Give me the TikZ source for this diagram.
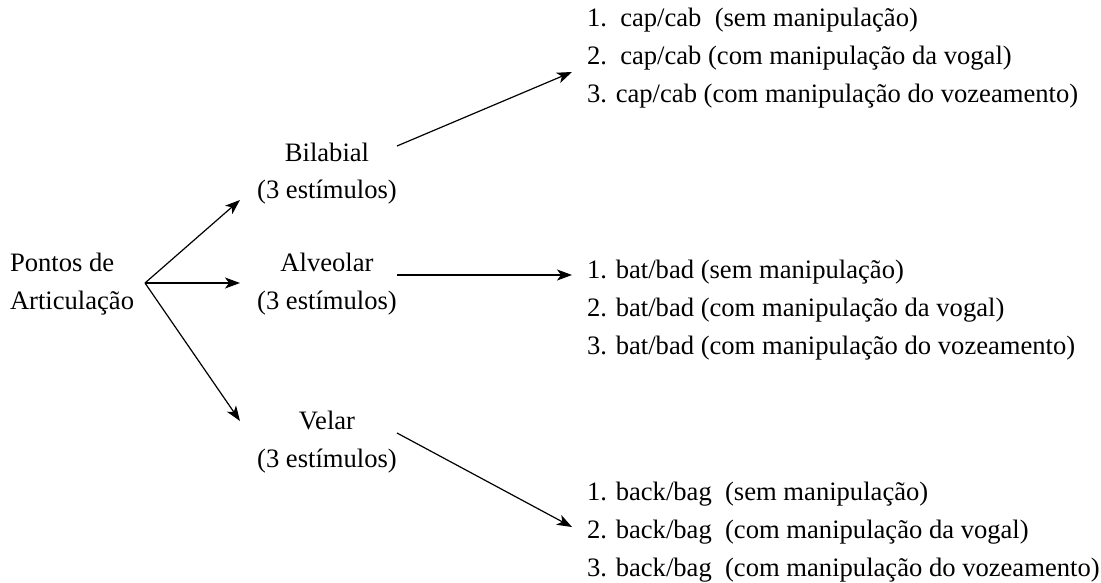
\documentclass[tikz,border=0pt]{standalone}
\usepackage{fontspec}
\setmainfont{Liberation Serif}
\newfontfamily\timesfam{Liberation Serif}
\usetikzlibrary{arrows.meta}
\begin{document}
\begin{tikzpicture}[x=1pt,y=-1pt,
  txt/.style={font=\timesfam\fontsize{26.6}{38}\selectfont, inner sep=0pt, outer sep=0pt},
  mid/.style={txt, anchor=base},
  item/.style={txt, anchor=base west},
  arr/.style={-{Stealth[length=15pt,width=11pt,inset=4pt]}, line width=1.2pt}]
\useasboundingbox (0,0) rectangle (1101,583);

% root
\node[item] (p1) at (10,271) {Pontos de};
\node[item] (p2) at (10,309) {Articulação};
\coordinate (o) at (145,283);

% places of articulation
\node[mid] (b1) at (327,161) {Bilabial};
\node[mid] (b2) at (327,199) {(3 estímulos)};
\node[mid] (a1) at (327,271) {Alveolar};
\node[mid] (a2) at (327,309) {(3 estímulos)};
\node[mid] (v1) at (327,429) {Velar};
\node[mid] (v2) at (327,467) {(3 estímulos)};

% stimulus lists
\node[item] (c1) at (587,27)  {1.\ \ cap/cab\ \ (sem manipulação)};
\node[item] (c2) at (587,65)  {2.\ \ cap/cab (com manipulação da vogal)};
\node[item] (c3) at (587,103) {3. cap/cab (com manipulação do vozeamento)};

\node[item] (t1) at (587,278) {1. bat/bad (sem manipulação)};
\node[item] (t2) at (587,316) {2. bat/bad (com manipulação da vogal)};
\node[item] (t3) at (587,354) {3. bat/bad (com manipulação do vozeamento)};

\node[item] (k1) at (587,500) {1. back/bag\ \ (sem manipulação)};
\node[item] (k2) at (587,538) {2. back/bag\ \ (com manipulação da vogal)};
\node[item] (k3) at (587,576) {3. back/bag\ \ (com manipulação do vozeamento)};

% arrow end points
\coordinate (eb) at (240,200);
\coordinate (ea) at (240,283);
\coordinate (ev) at (240,421);
\coordinate (sb) at (397,146);
\coordinate (sa) at (397,275);
\coordinate (sv) at (397,433);
\coordinate (ec) at (572,72);
\coordinate (et) at (572,275);
\coordinate (ek) at (572,527);

\draw[arr] (o) -- (eb);
\draw[arr] (o) -- (ea);
\draw[arr] (o) -- (ev);
\draw[arr] (sb) -- (ec);
\draw[arr] (sa) -- (et);
\draw[arr] (sv) -- (ek);
\end{tikzpicture}
\end{document}
